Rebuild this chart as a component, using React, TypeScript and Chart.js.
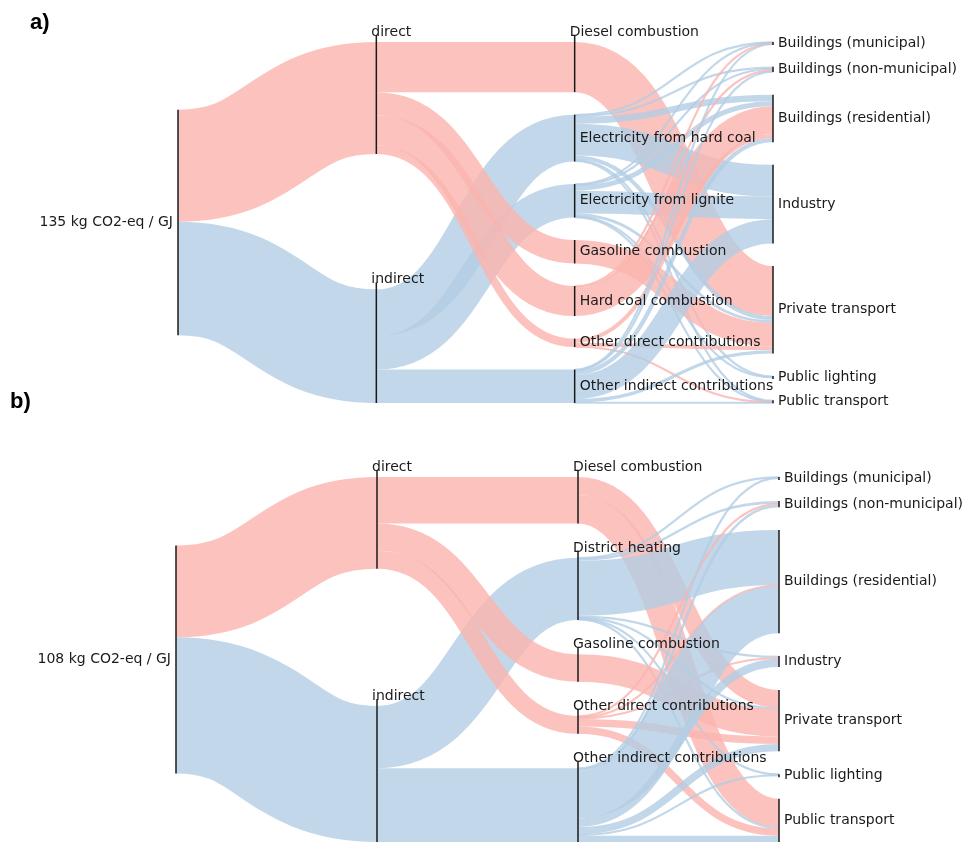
import React, { useEffect, useRef } from 'react';
import { Chart, registerables } from 'chart.js';

Chart.register(...registerables);

// ---------------- DATA ----------------
const SOURCE_A = '135 kg CO2-eq / GJ';
const SOURCE_B = '108 kg CO2-eq / GJ';
const SCOPES = ['direct', 'indirect'];
const SECTORS = [
  'Buildings (municipal)',
  'Buildings (non-municipal)',
  'Buildings (residential)',
  'Industry',
  'Private transport',
  'Public lighting',
  'Public transport',
];

// panel a) carriers, their scope (index into SCOPES) and flows to SECTORS (kg CO2-eq / GJ)
const CARRIERS_A = [
  'Diesel combustion',
  'Electricity from hard coal',
  'Electricity from lignite',
  'Gasoline combustion',
  'Hard coal combustion',
  'Other direct contributions',
  'Other indirect contributions',
];
const CARRIER_SCOPE_A = [0, 1, 1, 0, 0, 0, 1];
const FLOWS_A = [
  [0, 0, 0, 0, 30, 0, 0],
  [0.4, 1.0, 4, 19, 2.4, 0.6, 0.6],
  [0.3, 0.7, 3, 13.5, 1.7, 0.4, 0.4],
  [0, 0, 0, 0, 14, 0, 0],
  [0.4, 1.0, 16.6, 0, 0, 0, 0],
  [0, 0, 2.4, 0, 2.3, 0, 0.3],
  [0.2, 0.5, 2.5, 14.5, 2, 0, 0.3],
];

// panel b)
const CARRIERS_B = [
  'Diesel combustion',
  'District heating',
  'Gasoline combustion',
  'Other direct contributions',
  'Other indirect contributions',
];
const CARRIER_SCOPE_B = [0, 1, 0, 0, 1];
const FLOWS_B = [
  [0, 0, 0, 0, 8.5, 0, 13.5],
  [0.3, 1.2, 26, 0.8, 0.5, 0.2, 0.5],
  [0, 0, 0, 0, 13, 0, 0],
  [0, 0.5, 0.5, 0.4, 3.6, 0, 3.5],
  [0.3, 1.2, 22.4, 4, 3.5, 0.6, 3],
];

// ---------------- STYLE ----------------
const SCOPE_COLORS = ['rgba(251,180,174,0.8)', 'rgba(179,205,227,0.8)'];
const TEXT_COLOR = '#1a1a1a';
const LABEL_FONT = '14px "DejaVu Sans", sans-serif';
const TAG_FONT = 'bold 22px "Liberation Sans", Arial, sans-serif';

type SNode = {
  name: string;
  col: number;
  value: number;
  y0: number;
  y1: number;
  ins: SLink[];
  outs: SLink[];
};
type SLink = { s: SNode; t: SNode; v: number; scope: number; sy: number; ty: number };

const sum = (a: number[]) => a.reduce((p, c) => p + c, 0);

function buildSankey(source: string, carriers: string[], carrierScope: number[], flows: number[][], yMax: number) {
  const cols: SNode[][] = [[], [], [], []];
  const mk = (name: string, col: number): SNode => {
    const n: SNode = { name, col, value: 0, y0: 0, y1: 0, ins: [], outs: [] };
    cols[col].push(n);
    return n;
  };
  const src = mk(source, 0);
  const scopes = SCOPES.map((s) => mk(s, 1));
  const carr = carriers.map((c) => mk(c, 2));
  const sect = SECTORS.map((s) => mk(s, 3));
  const links: SLink[] = [];
  const add = (s: SNode, t: SNode, v: number, scope: number) => {
    if (v <= 0) return;
    const l: SLink = { s, t, v, scope, sy: 0, ty: 0 };
    s.outs.push(l);
    t.ins.push(l);
    links.push(l);
  };
  const rowSum = flows.map((r) => sum(r));
  SCOPES.forEach((_, k) =>
    add(src, scopes[k], sum(rowSum.filter((_, i) => carrierScope[i] === k)), k)
  );
  carriers.forEach((_, i) => add(scopes[carrierScope[i]], carr[i], rowSum[i], carrierScope[i]));
  flows.forEach((row, i) => row.forEach((v, j) => add(carr[i], sect[j], v, carrierScope[i])));

  cols.forEach((col) =>
    col.forEach((n) => {
      n.value = Math.max(sum(n.ins.map((l) => l.v)), sum(n.outs.map((l) => l.v)));
    })
  );
  cols.forEach((col) => {
    const total = sum(col.map((n) => n.value));
    if (col.length === 1) {
      col[0].y0 = (yMax - total) / 2;
      col[0].y1 = col[0].y0 + total;
    } else {
      const gap = (yMax - total) / (col.length - 1);
      let y = 0;
      col.forEach((n) => {
        n.y0 = y;
        n.y1 = y + n.value;
        y = n.y1 + gap;
      });
    }
  });
  cols.forEach((col) =>
    col.forEach((n) => {
      n.outs.sort((a, b) => a.t.y0 - b.t.y0);
      let y = n.y0;
      n.outs.forEach((l) => {
        l.sy = y + l.v / 2;
        y += l.v;
      });
      n.ins.sort((a, b) => a.s.y0 - b.s.y0);
      y = n.y0;
      n.ins.forEach((l) => {
        l.ty = y + l.v / 2;
        y += l.v;
      });
    })
  );
  return { cols, links };
}

type PanelCfg = {
  source: string;
  carriers: string[];
  carrierScope: number[];
  flows: number[][];
  yMax: number;
  top: number;
  height: number;
  padding: { left: number; right: number; top: number; bottom: number };
  tag: string;
  tagX: number;
  tagY: number;
  topLabels: (n: SNode) => boolean;
};

const PANELS: PanelCfg[] = [
  {
    source: SOURCE_A,
    carriers: CARRIERS_A,
    carrierScope: CARRIER_SCOPE_A,
    flows: FLOWS_A,
    yMax: 216,
    top: 0,
    height: 420,
    padding: { left: 178, right: 196, top: 42, bottom: 17 },
    tag: 'a)',
    tagX: 30,
    tagY: 29,
    topLabels: (n) => n.col === 1 || n.name === 'Diesel combustion',
  },
  {
    source: SOURCE_B,
    carriers: CARRIERS_B,
    carrierScope: CARRIER_SCOPE_B,
    flows: FLOWS_B,
    yMax: 173,
    top: 380,
    height: 470,
    padding: { left: 176, right: 190, top: 97, bottom: 8 },
    tag: 'b)',
    tagX: 10,
    tagY: 28,
    topLabels: (n) => n.col === 1 || n.col === 2,
  },
];

function Panel({ cfg }: { cfg: PanelCfg }) {
  const ref = useRef<HTMLCanvasElement | null>(null);
  useEffect(() => {
    if (!ref.current) return;
    const { cols, links } = buildSankey(cfg.source, cfg.carriers, cfg.carrierScope, cfg.flows, cfg.yMax);
    const sankeyPlugin = {
      id: 'sankeyDraw',
      afterDraw(chart: any) {
        const { ctx } = chart;
        const xs = chart.scales.x;
        const ys = chart.scales.y;
        const ky = Math.abs(ys.getPixelForValue(1) - ys.getPixelForValue(0));
        ctx.save();
        // links
        links.forEach((l) => {
          const x0 = xs.getPixelForValue(l.s.col);
          const x1 = xs.getPixelForValue(l.t.col);
          const y0 = ys.getPixelForValue(l.sy);
          const y1 = ys.getPixelForValue(l.ty);
          const xm = (x0 + x1) / 2;
          ctx.beginPath();
          ctx.moveTo(x0, y0);
          ctx.bezierCurveTo(xm, y0, xm, y1, x1, y1);
          ctx.lineWidth = Math.max(l.v * ky, 2.2);
          ctx.lineCap = 'butt';
          ctx.strokeStyle = SCOPE_COLORS[l.scope];
          ctx.stroke();
        });
        // nodes + labels
        ctx.font = LABEL_FONT;
        cols.forEach((col) =>
          col.forEach((n) => {
            const x = xs.getPixelForValue(n.col);
            const top = ys.getPixelForValue(n.y0);
            let bot = ys.getPixelForValue(n.y1);
            if (bot - top < 3) bot = top + 3;
            const isTop = cfg.topLabels(n);
            ctx.beginPath();
            ctx.moveTo(x, isTop ? top - 7 : top);
            ctx.lineTo(x, bot);
            ctx.lineWidth = 1.5;
            ctx.strokeStyle = TEXT_COLOR;
            ctx.stroke();
            ctx.fillStyle = TEXT_COLOR;
            if (n.col === 0) {
              ctx.textAlign = 'right';
              ctx.textBaseline = 'middle';
              ctx.fillText(n.name, x - 5, (top + bot) / 2);
            } else if (isTop) {
              ctx.textAlign = 'left';
              ctx.textBaseline = 'alphabetic';
              ctx.fillText(n.name, x - 5, top - 6);
            } else {
              ctx.textAlign = 'left';
              ctx.textBaseline = 'middle';
              ctx.fillText(n.name, x + 5, (top + bot) / 2);
            }
          })
        );
        // panel tag
        ctx.font = TAG_FONT;
        ctx.textAlign = 'left';
        ctx.textBaseline = 'alphabetic';
        ctx.fillStyle = '#000';
        ctx.fillText(cfg.tag, cfg.tagX, cfg.tagY);
        ctx.restore();
      },
    };
    const chart = new Chart(ref.current, {
      type: 'scatter',
      data: { datasets: [] },
      options: {
        animation: false,
        responsive: false,
        events: [],
        layout: { padding: cfg.padding },
        plugins: { legend: { display: false }, tooltip: { enabled: false } },
        scales: {
          x: { type: 'linear', min: 0, max: 3, display: false },
          y: { type: 'linear', min: 0, max: cfg.yMax, reverse: true, display: false },
        },
      },
      plugins: [sankeyPlugin],
    } as any);
    return () => chart.destroy();
  }, [cfg]);
  return (
    <canvas
      ref={ref}
      width={969}
      height={cfg.height}
      style={{ position: 'absolute', left: 0, top: cfg.top, width: 969, height: cfg.height }}
    />
  );
}

export default function App() {
  return (
    <div
      style={{
        position: 'fixed',
        left: 0,
        top: 0,
        width: 969,
        height: 843,
        overflow: 'hidden',
        background: '#fff',
      }}
    >
      {PANELS.map((p, i) => (
        <Panel key={i} cfg={p} />
      ))}
    </div>
  );
}
